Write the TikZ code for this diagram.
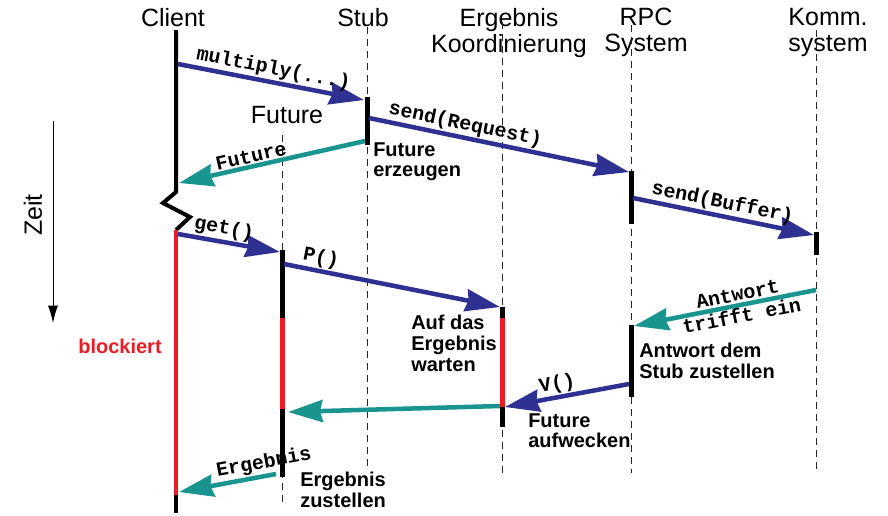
\documentclass[tikz,border=0pt]{standalone}
\usepackage{fontspec}
\setmainfont{Liberation Sans}
\newfontfamily\msgfont{Liberation Mono}
\usetikzlibrary{arrows.meta}
\definecolor{callblue}{HTML}{2E3192}
\definecolor{replyteal}{HTML}{1A948F}
\definecolor{blockred}{HTML}{ED1C24}

\begin{document}
\begin{tikzpicture}[
    x=0.75pt, y=-0.75pt,
    header/.style={font=\fontsize{18.75}{19.5}\selectfont, align=center, anchor=north, inner sep=0pt},
    note/.style={font=\fontsize{15}{15.5}\selectfont\bfseries, align=left, anchor=north west, inner sep=0pt},
    msg/.style={font=\fontsize{15}{16.5}\selectfont\msgfont\bfseries, sloped, inner sep=1pt},
    lifeline/.style={draw=black!85, line width=0.75pt, dash pattern=on 5.25pt off 3.75pt},
    bar/.style={line width=3.75pt},
    call/.style={draw=callblue, line width=3.4pt, -{Stealth[length=26pt, width=16.5pt, inset=2pt]}},
    reply/.style={call, draw=replyteal}
]
\useasboundingbox (0,0) rectangle (888,515);

% Cabeceras
\node[header] (client) at (173,8) {Client};
\node[header] (stub) at (363,8) {Stub};
\node[header] (ergko) at (509,8) {Ergebnis\\Koordinierung};
\node[header] (rpc) at (646,8) {RPC\\System};
\node[header] (komm) at (828,8) {Komm.\\system};

% Lineas de vida punteadas
% Formato: nombre, x, arriba, abajo
\foreach \name/\xx/\ytop/\ybot in {
    stub/367/27/467,
    fut/282/135/503,
    erg/502/22/473,
    rpc/631/25/473,
    komm/816/30/473
} {
    \draw[lifeline] (\xx,\ytop) coordinate (\name top) -- (\xx,\ybot) coordinate (\name bot);
}

% Barras de actividad (negro / rojo = bloqueado)
\foreach \xx/\ya/\yb/\col in {
    367/97/145/black,
    631/171/224/black,
    816/232/255/black,
    631/325/397/black,
    502/307/318/black,
    502/318/407/blockred,
    502/407/427/black,
    282/250/318/black,
    282/318/409/blockred,
    282/409/477/black} {
    \draw[bar, color=\col] (\xx,\ya) -- (\xx,\yb);
}

% Linea del cliente con corte
\draw[line width=3pt, miter limit=4] (176,30) -- (176,192) -- (163,203) -- (190,217) -- (176,230);
\draw[line width=3pt, blockred] (176,230) -- (176,495);
\draw[line width=3pt] (176,495) -- (176,513);

% Eje del tiempo
\coordinate (zeitA) at (53,121);
\coordinate (zeitB) at (53,323);
\draw[line width=0.75pt, -{Latex[length=13pt, width=7.5pt]}] (zeitA) -- (zeitB);
\node[font=\fontsize{18.75}{19.5}\selectfont, rotate=90] (zeit) at (33,215) {Zeit};

% Puntos de los mensajes
\coordinate (mulA) at (178,64);   \coordinate (mulB) at (364,100);
\coordinate (reqA) at (369,118);  \coordinate (reqB) at (629,172);
\coordinate (futA) at (365,141);  \coordinate (futB) at (179,183);
\coordinate (bufA) at (633,198);  \coordinate (bufB) at (814,235);
\coordinate (getA) at (178,234);  \coordinate (getB) at (280,252);
\coordinate (pA) at (284,264);    \coordinate (pB) at (500,307);
\coordinate (antA) at (816,290);  \coordinate (antB) at (634,326);
\coordinate (vA) at (629,384);    \coordinate (vB) at (505,407);
\coordinate (wakeA) at (500,406); \coordinate (wakeB) at (288,412);
\coordinate (ergA) at (276,474);  \coordinate (ergB) at (179,492);

% Mensajes
\draw[call] (mulA) -- node[msg, above, pos=.5] (mulL) {multiply(...)} (mulB);
\draw[call] (reqA) -- node[msg, above, pos=.36] (reqL) {send(Request)} (reqB);
\draw[reply] (futA) -- node[msg, above, pos=.6] (futL) {Future} (futB);
\draw[call] (bufA) -- node[msg, above, pos=.48] (bufL) {send(Buffer)} (bufB);
\draw[call] (getA) -- node[msg, above, pos=.43] (getL) {get()} (getB);
\draw[call] (pA) -- node[msg, above, pos=.16] (pL) {P()} (pB);
\draw[reply] (antA) -- node[msg, align=center, pos=.42] (antL) {Antwort\\trifft ein} (antB);
\draw[call] (vA) -- node[msg, above, pos=.56] (vL) {V()} (vB);
\draw[reply] (wakeA) -- (wakeB);
\draw[reply] (ergA) -- node[msg, above, pos=.1] (ergL) {Ergebnis} (ergB);

% Notas
\node[font=\fontsize{18.75}{19.5}\selectfont] (futnote) at (287,115) {Future};
\node[note] (erzeugen) at (373,142) {Future\\erzeugen};
\node[note] (warten) at (411,315) {Auf das\\Ergebnis\\warten};
\node[note] (zustellen) at (639,343) {Antwort dem\\Stub zustellen};
\node[note] (aufwecken) at (528,413) {Future\\aufwecken};
\node[note] (ergzu) at (300,472) {Ergebnis\\zustellen};
\node[font=\fontsize{15}{15.5}\selectfont\bfseries, text=blockred] (blockiert) at (120,346) {blockiert};
\end{tikzpicture}
\end{document}
